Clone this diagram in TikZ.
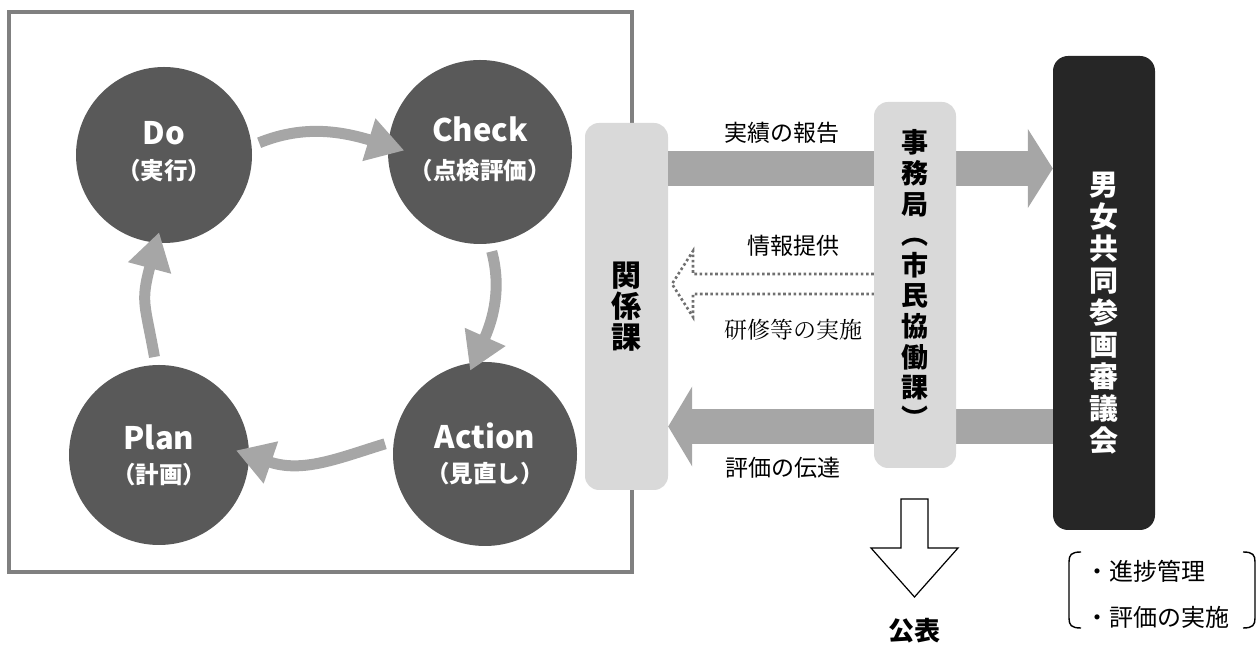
\documentclass[tikz,border=0pt]{standalone}
\usepackage{fontspec}
\setmainfont{Noto Sans CJK JP}
\newfontfamily\minchofont{Noto Serif CJK JP}
\usetikzlibrary{arrows.meta}
\definecolor{circfill}{HTML}{595959}
\definecolor{arrgray}{HTML}{A6A6A6}
\definecolor{boxgray}{HTML}{D9D9D9}
\definecolor{council}{HTML}{262626}
\definecolor{framegray}{HTML}{808080}
\definecolor{dotgray}{HTML}{707070}
\tikzset{
  cycnode/.style={circle, fill=circfill, inner sep=0pt},
  cyctop/.style={text=white, font=\fontsize{31}{31}\selectfont\bfseries, inner sep=0pt},
  cycsub/.style={text=white, font=\fontsize{23.5}{23.5}\selectfont\bfseries, inner sep=0pt},
  cycarrow/.style={draw=arrgray, line width=11pt, -{Triangle[length=37pt,width=42pt]}},
  lightbox/.style={fill=boxgray, rounded corners=14pt, inner sep=0pt},
  bigarrow/.style={draw=arrgray, line width=35pt, -{Triangle[length=25pt,width=78pt]}},
  flowlabel/.style={font=\fontsize{23}{23}\selectfont, inner sep=0pt},
  vtext/.style={align=center, inner sep=0pt},
}
\begin{document}
\begin{tikzpicture}[x=1pt,y=1pt]
\useasboundingbox (0,0) rectangle (1258,655);
% frame
\draw[draw=framegray, line width=4pt] (9,643) rectangle (632,83);
% PDCA circles
\node[cycnode, minimum size=176pt] (Do) at (164,500) {};
\node[cycnode, minimum size=184pt] (Check) at (480,503) {};
\node[cycnode, minimum size=184pt] (Action) at (485,201) {};
\node[cycnode, minimum size=180pt] (Plan) at (159,200) {};
\node[cyctop] (DoT) at ([yshift=22pt]Do.center) {Do};
\node[cycsub] (DoS) at ([yshift=-16pt]Do.center) {（実行）};
\node[cyctop] (CheckT) at ([yshift=23pt]Check.center) {Check};
\node[cycsub] (CheckS) at ([yshift=-19pt]Check.center) {（点検評価）};
\node[cyctop] (ActionT) at ([yshift=18pt]Action.center) {Action};
\node[cycsub] (ActionS) at ([yshift=-20pt]Action.center) {（見直し）};
\node[cyctop] (PlanT) at ([yshift=18pt]Plan.center) {Plan};
\node[cycsub] (PlanS) at ([yshift=-20pt]Plan.center) {（計画）};
% cycle arrows
\draw[cycarrow, shorten <=8pt, shorten >=-17pt] (Do.6) to[out=22,in=163] (Check.176);
\draw[cycarrow, shorten <=8pt, shorten >=-9pt] (Check.-84) to[out=-75,in=66] (Action.97);
\draw[cycarrow, shorten <=9pt, shorten >=-14pt] (Action.172) to[out=197,in=-19] (Plan.0);
\draw[cycarrow, shorten <=8pt, shorten >=-11pt, looseness=1.3] (Plan.92) to[out=100,in=255] (Do.-95);
% related sections box
\node[lightbox, minimum width=83pt, minimum height=367pt] (Kan) at (626.5,348.5) {};
\node[vtext, font=\fontsize{30}{31}\selectfont\bfseries] (KanT) at (Kan.center) {関\\係\\課};
% council box
\node[fill=council, rounded corners=15pt, inner sep=0pt, minimum width=102pt, minimum height=474pt] (Coun) at (1104,362) {};
\node[vtext, text=white, font=\fontsize{29}{32}\selectfont\bfseries] (CounT) at (1104,342) {男\\女\\共\\同\\参\\画\\審\\議\\会};
% big arrows
\coordinate (uy) at (0,486.5);
\coordinate (ly) at (0,228.5);
\draw[bigarrow] (Kan.east |- uy) -- (Coun.west |- uy);
\draw[draw=arrgray, line width=35pt, -{Triangle[length=24pt,width=79pt]}] (Coun.west |- ly) -- (Kan.east |- ly);
% secretariat box
\node[lightbox, minimum width=82pt, minimum height=366pt] (Jim) at (915,370) {};
\node[vtext, font=\fontsize{27}{30.6}\selectfont\bfseries] (JimT) at (915,376) {事\\務\\局\\︵\\市\\民\\協\\働\\課\\︶};
% dotted hollow arrow
\coordinate (dt) at (0,381);
\coordinate (db) at (0,361);
\draw[draw=dotgray, line width=2.6pt, dash pattern=on 2.6pt off 2.6pt]
  (Jim.west |- dt) -- (693,381) -- (693,404) -- (672,371) -- (693,338) -- (693,361) -- (Jim.west |- db);
% flow labels
\node[flowlabel] (L1) at (782,522) {実績の報告};
\node[flowlabel] (L2) at (793,409) {情報提供};
\node[flowlabel, font=\fontsize{23}{23}\minchofont] (L3) at (793,325) {研修等の実施};
\node[flowlabel] (L4) at (783,187) {評価の伝達};
% publication arrow
\draw[line width=1.2pt, fill=white] (901,156) -- (928,156) -- (928,107) -- (958,107) -- (914.5,58) -- (871,107) -- (901,107) -- cycle;
\node[font=\fontsize{26}{26}\selectfont\bfseries, inner sep=0pt] (Pub) at (914,24) {公表};
% brackets and duties
\draw[line width=1.4pt] (1081,103) .. controls (1071,103) and (1069,100) .. (1069,93) -- (1069,37) .. controls (1069,30) and (1071,27) .. (1081,27);
\draw[line width=1.4pt] (1243,103) .. controls (1253,103) and (1255,100) .. (1255,93) -- (1255,37) .. controls (1255,30) and (1253,27) .. (1243,27);
\node[font=\fontsize{24}{24}\selectfont, anchor=west, inner sep=0pt] (D1) at (1085,84) {・進捗管理};
\node[font=\fontsize{24}{24}\selectfont, anchor=west, inner sep=0pt] (D2) at (1085,38) {・評価の実施};
\end{tikzpicture}
\end{document}
